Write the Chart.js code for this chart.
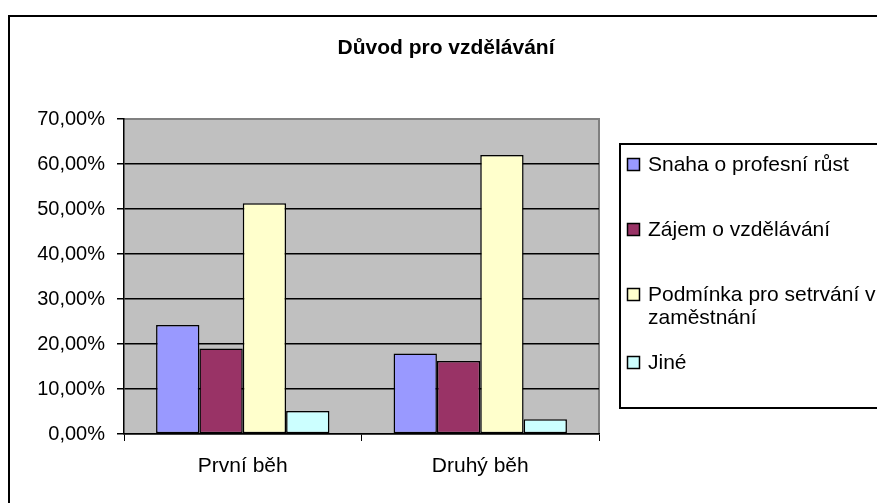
<!DOCTYPE html>
<html>
<head>
<meta charset="utf-8">
<script src="https://cdn.jsdelivr.net/npm/chart.js@4/dist/chart.umd.min.js"></script>
<style>
  html, body { margin: 0; padding: 0; background: #fff; }
  #wrap { width: 877px; height: 503px; }
</style>
</head>
<body>
<div id="wrap"><canvas id="chart-area" width="877" height="503"></canvas></div>
<script>
'use strict';

const title = 'Důvod pro vzdělávání';
const categories = ['První běh', 'Druhý běh'];
const seriesNames = ['Snaha o profesní růst', 'Zájem o vzdělávání', 'Podmínka pro setrvání v zaměstnání', 'Jiné'];
const snaha = [24.2, 17.9];
const zajem = [19.0, 16.2];
const podminka = [51.3, 62.0];
const jine = [5.1, 3.3];
const colors = ['#9999FF', '#993366', '#FFFFCC', '#CCFFFF'];
const yMax = 70, yStep = 10;

const FONT = '"Liberation Sans", Arial, sans-serif';

var values = [snaha, zajem, podminka, jine];
var datasets = [];
for (let i = 0; i < seriesNames.length; i++) {
  datasets.push({
    label: seriesNames[i],
    data: values[i],
    backgroundColor: colors[i],
    borderColor: '#000',
    borderWidth: 1.5,
    borderSkipped: false,
    categoryPercentage: 0.73,
    barPercentage: 1.0
  });
}

// frame, plot background, title and the legend box (Excel style)
const excelLook = {
  id: 'excelLook',
  beforeDraw: (chart) => {
    const c = chart.ctx, a = chart.chartArea;
    c.save();
    c.fillStyle = '#fff';
    c.fillRect(0, 0, chart.width, chart.height);
    c.strokeStyle = '#000';
    c.lineWidth = 2;
    c.strokeRect(9, 16, 900, 600);
    c.fillStyle = '#C0C0C0';
    c.fillRect(a.left, a.top, a.right - a.left, a.bottom - a.top);
    c.strokeStyle = '#808080';
    c.lineWidth = 2;
    c.beginPath();
    c.moveTo(a.left, a.top);
    c.lineTo(a.right, a.top);
    c.lineTo(a.right, a.bottom);
    c.stroke();
    c.restore();
  },
  afterDraw: (chart) => {
    const c = chart.ctx;
    c.save();
    c.fillStyle = '#000';
    c.font = 'bold 21px ' + FONT;
    c.textAlign = 'center';
    c.textBaseline = 'middle';
    c.fillText(title, 446, 48);

    // legend
    c.strokeStyle = '#000';
    c.lineWidth = 2;
    c.strokeRect(620, 144, 300, 264);
    c.font = '21px ' + FONT;
    c.textAlign = 'left';
    const maxW = 240;
    let y = 165;
    chart.data.datasets.forEach((ds) => {
      // wrap label to the legend width
      const words = ds.label.split(' ');
      const lines = [];
      let line = '';
      for (const w of words) {
        const t = line ? line + ' ' + w : w;
        if (c.measureText(t).width > maxW && line) { lines.push(line); line = w; }
        else line = t;
      }
      lines.push(line);
      c.fillStyle = ds.backgroundColor;
      c.fillRect(627.5, y - 6.5, 12, 12);
      c.strokeStyle = '#000';
      c.lineWidth = 1.5;
      c.strokeRect(627.5, y - 6.5, 12, 12);
      c.fillStyle = '#000';
      lines.forEach((l, k) => c.fillText(l, 648, y + k * 23));
      y += 65 + (lines.length - 1) * 3;
    });
    c.restore();
  }
};

var config = {
  type: 'bar',
  data: { labels: categories, datasets: datasets },
  options: {
    responsive: false,
    animation: false,
    layout: { padding: { left: 0, top: 119, right: 278, bottom: 0 } },
    plugins: {
      legend: { display: false },
      title: { display: false },
      tooltip: { enabled: false }
    },
    scales: {
      x: {
        grid: {
          offset: true,
          drawOnChartArea: false,
          color: '#000',
          tickLength: 7,
          lineWidth: 1
        },
        border: { color: '#000', width: 1.5 },
        ticks: { color: '#000', font: { family: FONT, size: 21 }, padding: 13 },
        afterFit: (s) => { s.height = 69; }
      },
      y: {
        min: 0,
        max: yMax,
        grid: {
          color: (ctx) => (ctx.tick && ctx.tick.value === yMax) ? '#808080' : '#000',
          tickColor: '#000',
          tickLength: 7,
          lineWidth: 1.5
        },
        border: { color: '#000', width: 1.5 },
        ticks: {
          stepSize: yStep,
          color: '#000',
          font: { family: FONT, size: 20 },
          padding: 12,
          callback: (v) => v.toFixed(2).replace('.', ',') + '%'
        },
        afterFit: (s) => { s.width = 124; }
      }
    }
  },
  plugins: [excelLook]
};

window.onload = function() {
  var ctx = document.getElementById('chart-area').getContext('2d');
  window.myBar = new Chart(ctx, config);
};
</script>
</body>
</html>
